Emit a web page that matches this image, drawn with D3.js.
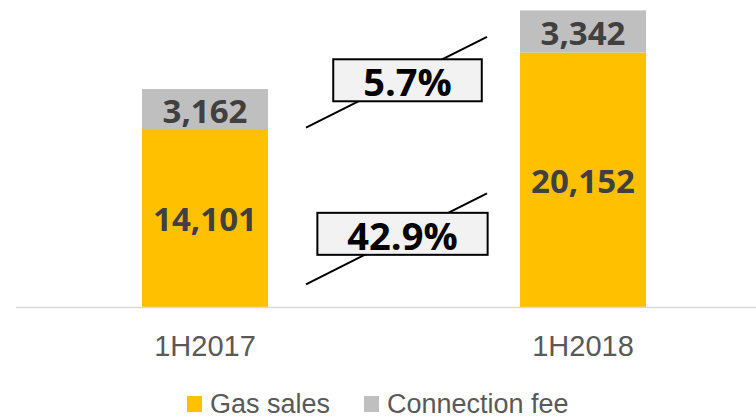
<!DOCTYPE html>
<html>
<head>
<meta charset="utf-8">
<script src="https://cdn.jsdelivr.net/npm/d3@7"></script>
<style>
	body { margin: 0; background: #ffffff; }
	svg { display: block; }
	.cat-label { font-family: "Liberation Sans", Arial, sans-serif; font-size: 29px; fill: #595959; }
	.value-label { font-family: "Open Sans", sans-serif; font-weight: bold; font-size: 33px; fill: #404040; }
	.growth-label { font-family: "Open Sans", sans-serif; font-weight: bold; font-size: 38px; fill: #000000; }
	.legend-text { font-family: "Liberation Sans", Arial, sans-serif; font-size: 27px; fill: #595959; }
</style>
</head>
<body>
<svg id="chart" width="756" height="419"></svg>
<script>
( function() {

	"use strict";

	// data
	var categories = [ "1H2017", "1H2018" ],
		gasSales = [ 14101, 20152 ],
		connectionFee = [ 3162, 3342 ],
		seriesNames = [ "Gas sales", "Connection fee" ],
		seriesColors = [ "#ffc000", "#bfbfbf" ];

	// layout
	var width = 756,
		baseline = 307,
		yMax = 24000,
		// growth annotations, y in value units (low end, high end)
		growthLines = [
			{ series: 0, from: 1800, to: 9000, dx: 6, dy: -5 },
			{ series: 1, from: 14200, to: 21400, dx: 11, dy: -2 }
		];

	var svg = d3.select( "#chart" );

	var x = d3.scaleBand()
		.domain( categories )
		.range( [ 16, 772 ] )
		.paddingInner( 2 / 3 )
		.paddingOuter( 1 / 3 );

	var y = d3.scaleLinear()
		.domain( [ 0, yMax ] )
		.range( [ baseline, 4 ] );

	var fmt = d3.format( "," );

	//stack the two series
	var rows = categories.map( function( c, i ) {
		return { cat: c, gas: gasSales[ i ], fee: connectionFee[ i ] };
	} );
	var stacked = d3.stack().keys( [ "gas", "fee" ] )( rows );

	var layers = svg.selectAll( ".layer" )
		.data( stacked )
		.enter()
		.append( "g" )
			.attr( "class", "layer" )
			.attr( "fill", function( d, i ) { return seriesColors[ i ]; } );

	layers.selectAll( "rect" )
		.data( function( d ) { return d; } )
		.enter()
		.append( "rect" )
			.attr( "x", function( d ) { return x( d.data.cat ); } )
			.attr( "y", function( d ) { return y( d[ 1 ] ); } )
			.attr( "width", x.bandwidth() )
			.attr( "height", function( d ) { return y( d[ 0 ] ) - y( d[ 1 ] ); } );

	//value labels
	layers.selectAll( "text" )
		.data( function( d ) { return d; } )
		.enter()
		.append( "text" )
			.attr( "class", "value-label" )
			.attr( "text-anchor", "middle" )
			.attr( "dominant-baseline", "central" )
			.attr( "x", function( d ) { return x( d.data.cat ) + x.bandwidth() / 2; } )
			.attr( "y", function( d ) { return ( y( d[ 0 ] ) + y( d[ 1 ] ) ) / 2 + 1; } )
			.text( function( d ) { return fmt( d[ 1 ] - d[ 0 ] ); } );

	//axis line
	svg.append( "line" )
		.attr( "x1", 16 ).attr( "x2", width )
		.attr( "y1", baseline + 0.5 ).attr( "y2", baseline + 0.5 )
		.attr( "stroke", "#d9d9d9" )
		.attr( "stroke-width", 1.5 );

	//category labels
	svg.selectAll( ".cat-label" )
		.data( categories )
		.enter()
		.append( "text" )
			.attr( "class", "cat-label" )
			.attr( "text-anchor", "middle" )
			.attr( "x", function( d ) { return x( d ) + x.bandwidth() / 2; } )
			.attr( "y", 356 )
			.text( function( d ) { return d; } );

	//growth annotations
	var lineX1 = x( categories[ 0 ] ) + x.bandwidth() + 38,
		lineX2 = x( categories[ 1 ] ) - 33;
	var growthValues = [
		gasSales[ 1 ] / gasSales[ 0 ] - 1,
		connectionFee[ 1 ] / connectionFee[ 0 ] - 1
	];

	growthLines.forEach( function( g ) {
		var grp = svg.append( "g" ).attr( "class", "growth" );
		grp.append( "line" )
			.attr( "x1", lineX1 ).attr( "y1", y( g.from ) )
			.attr( "x2", lineX2 ).attr( "y2", y( g.to ) )
			.attr( "stroke", "#000" )
			.attr( "stroke-width", 2 );
		var cx = ( lineX1 + lineX2 ) / 2 + g.dx,
			cy = ( y( g.from ) + y( g.to ) ) / 2 + g.dy;
		var box = grp.append( "rect" )
			.attr( "fill", "#f2f2f2" )
			.attr( "stroke", "#000" )
			.attr( "stroke-width", 2 );
		var txt = grp.append( "text" )
			.attr( "class", "growth-label" )
			.attr( "text-anchor", "middle" )
			.attr( "dominant-baseline", "central" )
			.attr( "x", cx )
			.attr( "y", cy + 1 )
			.text( d3.format( ".1%" )( growthValues[ g.series ] ) );
		var w = txt.node().getComputedTextLength() + 60,
			h = 42;
		box.attr( "x", cx - w / 2 ).attr( "y", cy - h / 2 )
			.attr( "width", w ).attr( "height", h );
	} );

	//legend
	var legendX = [ 187, 364 ];
	var legend = svg.selectAll( ".legend-item" )
		.data( seriesNames )
		.enter()
		.append( "g" )
			.attr( "class", "legend-item" )
			.attr( "transform", function( d, i ) { return "translate(" + legendX[ i ] + ",396)"; } );
	legend.append( "rect" )
		.attr( "width", 15 ).attr( "height", 16 )
		.attr( "fill", function( d, i ) { return seriesColors[ i ]; } );
	legend.append( "text" )
		.attr( "class", "legend-text" )
		.attr( "x", 23 )
		.attr( "y", 17 )
		.text( function( d ) { return d; } );

} )();
</script>
</body>
</html>
